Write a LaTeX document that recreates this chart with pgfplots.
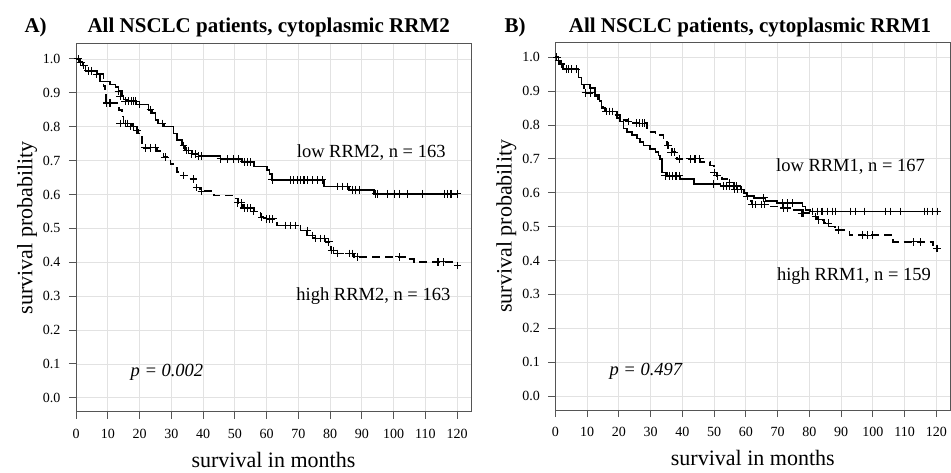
\documentclass[border=0pt]{standalone}
\usepackage{fontspec}
\setmainfont{Liberation Serif}
\usepackage{pgfplots}
\pgfplotsset{compat=1.18}

\definecolor{gridgray}{RGB}{226,226,226}
\definecolor{boxgray}{RGB}{85,85,85}

\tikzset{txt/.style={font=\fontsize{18.5}{20}\selectfont}}

\pgfplotsset{
  km/.style={
    scale only axis, width=395pt, height=367.7pt,
    xmin=0, xmax=124.4, ymin=-0.041, ymax=1.044,
    xtick={0,10,20,30,40,50,60,70,80,90,100,110,120},
    ytick={0,0.1,0.2,0.3,0.4,0.5,0.6,0.7,0.8,0.9,1.0},
    /pgf/number format/assume math mode=true,
    yticklabel style={/pgf/number format/fixed, /pgf/number format/fixed zerofill,
      /pgf/number format/precision=1, xshift=-5pt},
    xticklabel style={/pgf/number format/fixed, yshift=-7pt},
    tick label style={font=\fontsize{14}{16}\selectfont},
    tick align=outside, tick pos=left, major tick length=7pt,
    tick style={boxgray, line width=0.9pt},
    axis line style={boxgray, line width=1pt},
    grid=major, major grid style={gridgray, line width=0.8pt},
    xlabel={survival in months}, ylabel={survival probability},
    label style={font=\fontsize{22}{24}\selectfont},
    xlabel style={at={(axis description cs:0.5,-0.131)}, anchor=center},
    ylabel style={at={(axis description cs:-0.124,0.5)}, anchor=center},
    clip=false,
  },
  low/.style={black, line width=1.6pt, const plot},
  high/.style={black, line width=1.6pt, const plot, dash pattern=on 8pt off 5pt},
  cens/.style={black, only marks, mark=+, mark size=3.8pt, mark options={line width=1.1pt, solid}},
}

\begin{document}
\begin{tikzpicture}
\useasboundingbox (0,0) rectangle (951pt,472pt);

% titles
\node[anchor=base west, font=\fontsize{21}{23}\selectfont\bfseries] at (21pt,439pt) {A)};
\node[anchor=base, font=\fontsize{21}{23}\selectfont\bfseries] at (268.7pt,439pt) {All NSCLC patients, cytoplasmic RRM2};
\node[anchor=base west, font=\fontsize{21}{23}\selectfont\bfseries] at (501pt,439pt) {B)};
\node[anchor=base, font=\fontsize{21}{23}\selectfont\bfseries] at (750pt,439pt) {All NSCLC patients, cytoplasmic RRM1};

% ---- A) RRM2
\begin{axis}[km, at={(76pt,60.3pt)}, anchor=south west]
\addplot[low] coordinates {
(0,1.0) (1,0.99) (2,0.98) (3,0.965) (6.7,0.955) (7.6,0.933) (10.7,0.925)
(12.5,0.917) (13.4,0.905) (14.4,0.89) (15,0.88) (16,0.875) (19,0.865)
(22.8,0.85) (24,0.84) (25,0.82) (25.8,0.81) (27.8,0.80) (30.7,0.78)
(31.8,0.76) (33.4,0.745) (34.4,0.73) (36.5,0.72) (38.6,0.713) (45.5,0.705)
(52.3,0.696) (56,0.682) (60.2,0.672) (61,0.66) (61.8,0.643) (78.1,0.624)
(86,0.614) (93.9,0.602) (120.2,0.602)};
\addplot[high] coordinates {
(0,1.0) (1,0.99) (2,0.98) (3,0.965) (6.7,0.955) (8.6,0.92) (9.2,0.895)
(9.5,0.87) (13.5,0.85) (14.4,0.83) (15,0.81) (17.6,0.80) (19,0.79)
(19.7,0.78) (20.7,0.75) (21.3,0.738) (25.5,0.728) (27.6,0.71) (29.7,0.69)
(30.7,0.68) (31.8,0.667) (33.9,0.656) (36,0.646) (38,0.62) (39,0.61)
(43.5,0.597) (49.7,0.588) (51,0.575) (52.5,0.56) (56,0.55) (57,0.545)
(58.1,0.533) (59,0.528) (63.3,0.509) (70.7,0.494) (72.8,0.479) (75,0.47)
(78.6,0.46) (79.6,0.445) (80.3,0.435) (81.2,0.426) (87.5,0.416)
(104.3,0.409) (106.4,0.401) (119.2,0.39) (120.2,0.39)};
\addplot[cens] coordinates {
(0.7,1.0) (1.5,0.99) (2.5,0.98) (3.8,0.965) (5,0.965) (6.5,0.955)
(13.4,0.905) (13.9,0.89) (15.5,0.875) (16.5,0.875) (17.5,0.875) (18.1,0.875)
(18.7,0.875) (20,0.865) (23.4,0.85) (27.1,0.81) (33.9,0.745) (34.8,0.73)
(35.3,0.73) (36.5,0.72) (37.5,0.72) (38.6,0.713) (39.5,0.713) (45.5,0.705)
(47.6,0.705) (49.7,0.705) (51.3,0.705) (53,0.696) (54,0.696) (55,0.696)
(61.8,0.643) (67.6,0.643) (68.6,0.643) (69.7,0.643) (70.7,0.643) (71.8,0.643)
(72.8,0.643) (74.4,0.643) (76,0.643) (77.6,0.643) (82.3,0.624) (83.9,0.624)
(85.5,0.624) (87,0.614) (88.1,0.614) (89.2,0.614) (94.4,0.602) (95,0.602)
(98.1,0.602) (100.2,0.602) (101.8,0.602) (104.4,0.602) (109.2,0.602)
(116,0.602) (117,0.602) (118.1,0.602) (120.2,0.602)};
\addplot[cens] coordinates {
(6.5,0.955) (9.7,0.87) (10.7,0.87) (13.9,0.81) (15.5,0.81) (16.3,0.81)
(17.1,0.80) (18.1,0.80) (19.2,0.79) (21.8,0.738) (23.4,0.738) (25,0.738)
(28.1,0.71) (33.9,0.656) (37,0.646) (38,0.62) (39.5,0.61) (51,0.575)
(52,0.575) (53,0.56) (54,0.56) (55,0.56) (56,0.55) (58.5,0.533) (60,0.528)
(61,0.528) (62,0.528) (66,0.509) (67.5,0.509) (69,0.509) (72.8,0.494)
(74.4,0.479) (75.5,0.47) (77,0.47) (78.2,0.47) (79.6,0.46) (80.5,0.435)
(81.2,0.435) (82.3,0.426) (86,0.426) (87,0.426) (88.6,0.416) (101.8,0.416)
(114,0.401) (115.6,0.401) (120.2,0.39)};
\node[txt, anchor=base east] at (axis cs:117.5,0.71) {low RRM2, n = 163};
\node[txt, anchor=base east] at (axis cs:119,0.288) {high RRM2, n = 163};
\node[txt, anchor=base west] at (axis cs:16.1,0.063) {\itshape p = 0.002};
\end{axis}

% ---- B) RRM1
\begin{axis}[km, at={(555.3pt,62pt)}, anchor=south west]
\addplot[low] coordinates {
(0,1.0) (1,0.99) (1.5,0.98) (2.5,0.965) (7.3,0.94) (8.3,0.92) (11,0.91)
(12.5,0.89) (13.9,0.87) (14.6,0.85) (15.7,0.84) (19.4,0.82) (20.4,0.81)
(21.5,0.79) (22.5,0.78) (24.1,0.77) (25.7,0.76) (26.7,0.75) (27.8,0.74)
(29.9,0.73) (31.5,0.72) (32.5,0.71) (33,0.70) (33.6,0.66) (35.2,0.65)
(39.4,0.64) (43.6,0.625) (52,0.62) (56.2,0.61) (59.4,0.60) (60.4,0.59)
(62.5,0.585) (66.2,0.575) (69.9,0.57) (77.8,0.56) (78.8,0.55) (80.4,0.545)
(120.4,0.545)};
\addplot[high] coordinates {
(0,1.0) (1,0.99) (1.5,0.98) (2.5,0.965) (7.3,0.94) (8.3,0.92) (9,0.895)
(12,0.885) (13.5,0.87) (14.6,0.855) (15,0.84) (18.5,0.83) (20.4,0.815)
(22.5,0.81) (23.6,0.805) (28.8,0.79) (29.5,0.78) (31.5,0.77) (34.1,0.75)
(35.2,0.74) (35.7,0.73) (36.8,0.72) (38.3,0.70) (45.7,0.69) (48.8,0.68)
(49.9,0.66) (51,0.65) (52.5,0.64) (54,0.63) (56.2,0.62) (58.3,0.61)
(59.4,0.60) (60.4,0.59) (61.5,0.575) (62,0.565) (66.7,0.56) (71,0.555)
(74.6,0.55) (77.3,0.54) (80.4,0.53) (82.5,0.52) (84.6,0.51) (86,0.50)
(88,0.49) (92.6,0.475) (106.4,0.455) (119,0.436) (120.2,0.436)};
\addplot[cens] coordinates {
(0.5,1.0) (1,0.99) (2,0.98) (4.1,0.965) (6.7,0.965) (17,0.84) (18,0.84)
(34.6,0.65) (36,0.65) (37,0.65) (38,0.65) (39,0.65) (49.9,0.625) (53,0.62)
(54,0.62) (55,0.62) (56.5,0.61) (57.5,0.61) (58.5,0.61) (60.4,0.59)
(65.7,0.585) (71.5,0.57) (73,0.57) (74.6,0.57) (81,0.545) (82.5,0.545)
(84,0.545) (85.7,0.545) (87.3,0.545) (88.3,0.545) (93,0.545) (94.6,0.545)
(97.3,0.545) (104,0.545) (105.7,0.545) (108.8,0.545) (116.2,0.545)
(117.3,0.545) (118.8,0.545) (120.4,0.545)};
\addplot[cens] coordinates {
(3.5,0.965) (5,0.965) (9.5,0.895) (11,0.895) (16,0.84) (17,0.84) (23,0.81)
(25.5,0.805) (26.5,0.805) (27.5,0.805) (28,0.805) (35.5,0.74) (36.5,0.72)
(37.5,0.72) (39,0.70) (42.5,0.70) (44,0.70) (45.5,0.70) (50,0.66) (51,0.65)
(55,0.63) (57,0.62) (60.4,0.59) (62,0.565) (63,0.565) (65,0.565) (66,0.565)
(72,0.555) (73,0.555) (77.5,0.54) (78,0.54) (82,0.53) (83,0.52) (86,0.51)
(89.2,0.49) (96.8,0.475) (98.4,0.475) (100,0.475) (112.8,0.455)
(114.9,0.455) (120.2,0.436)};
\node[txt, anchor=base east] at (axis cs:117.5,0.662) {low RRM1, n = 167};
\node[txt, anchor=base east] at (axis cs:119.4,0.342) {high RRM1, n = 159};
\node[txt, anchor=base west] at (axis cs:16,0.062) {\itshape p = 0.497};
\end{axis}
\end{tikzpicture}
\end{document}
